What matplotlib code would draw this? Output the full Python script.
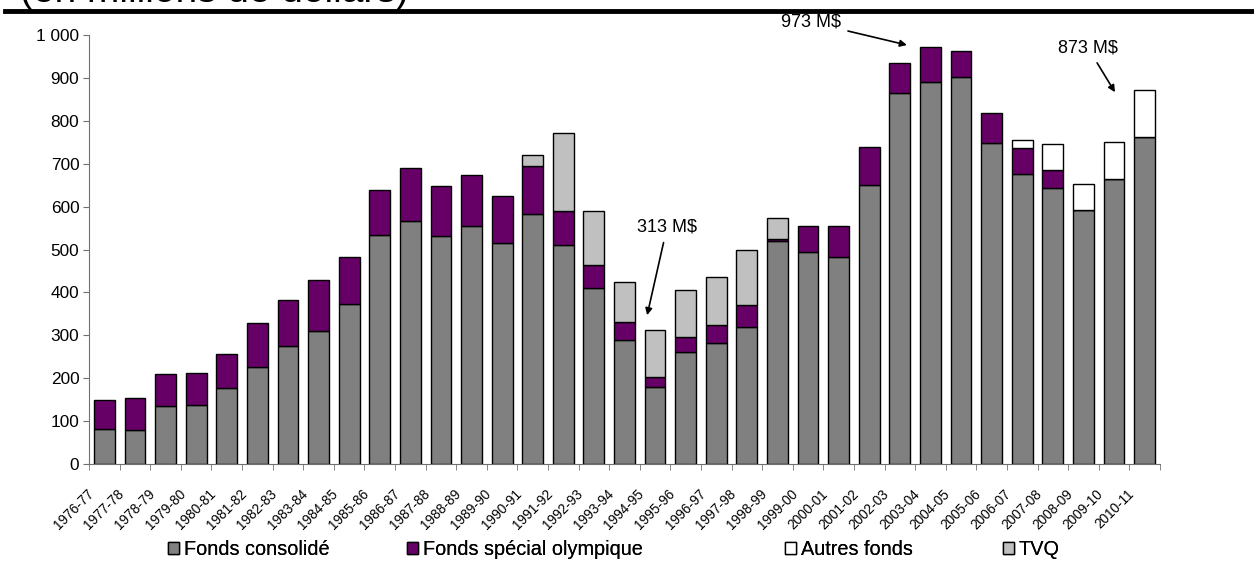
import numpy as np
import matplotlib
matplotlib.use('Agg')
import matplotlib.pyplot as plt
import matplotlib.transforms as mtrans
from matplotlib.ticker import FuncFormatter

years = ['1976-77', '1977-78', '1978-79', '1979-80', '1980-81', '1981-82', '1982-83',
         '1983-84', '1984-85', '1985-86', '1986-87', '1987-88', '1988-89', '1989-90',
         '1990-91', '1991-92', '1992-93', '1993-94', '1994-95', '1995-96', '1996-97',
         '1997-98', '1998-99', '1999-00', '2000-01', '2001-02', '2002-03', '2003-04',
         '2004-05', '2005-06', '2006-07', '2007-08', '2008-09', '2009-10', '2010-11']

# en millions de dollars
consolide = [82, 80, 135, 138, 177, 226, 274, 311, 372, 534, 567, 531, 554, 516,
             584, 510, 410, 288, 180, 262, 282, 320, 520, 495, 483, 650, 865, 890,
             902, 748, 676, 643, 592, 664, 762]
olympique = [68, 75, 75, 75, 80, 102, 109, 117, 111, 104, 123, 117, 120, 109,
             111, 80, 53, 42, 23, 33, 43, 50, 4, 60, 72, 90, 70, 83,
             61, 70, 61, 43, 0, 0, 0]
tvq = [0, 0, 0, 0, 0, 0, 0, 0, 0, 0, 0, 0, 0, 0,
       25, 182, 127, 95, 110, 110, 112, 130, 50, 0, 0, 0, 0, 0,
       0, 0, 0, 0, 0, 0, 0]
autres = [0, 0, 0, 0, 0, 0, 0, 0, 0, 0, 0, 0, 0, 0,
          0, 0, 0, 0, 0, 0, 0, 0, 0, 0, 0, 0, 0, 0,
          0, 0, 19, 60, 60, 88, 111]

notes = ['313 M$', '973 M$', '873 M$']
series_names = ['Fonds consolidé', 'Fonds spécial olympique', 'Autres fonds', 'TVQ']

plt.rcParams['font.family'] = ['Liberation Sans', 'DejaVu Sans']

fig = plt.figure(figsize=(12.54, 5.67), dpi=100)
ax = fig.add_axes([0.071, 0.1817, 0.854, 0.7563])

x = np.arange(len(years))
w = 0.68
kw = dict(width=w, edgecolor='black', linewidth=1.0)
b1 = ax.bar(x, consolide, color='#808080', **kw)
bot = np.array(consolide)
b2 = ax.bar(x, olympique, bottom=bot, color='#660066', **kw)
bot = bot + np.array(olympique)
# skip zero-height segments so no stray edges show
tv = np.array(tvq, dtype=float)
au = np.array(autres, dtype=float)
m = tv > 0
b4 = ax.bar(x[m], tv[m], bottom=bot[m], color='#c0c0c0', **kw)
m = au > 0
b3 = ax.bar(x[m], au[m], bottom=bot[m], color='white', **kw)

ax.set_xlim(-0.5, len(years) - 0.5)
ax.set_ylim(0, 1000)
ax.set_yticks(np.arange(0, 1001, 100))
ax.yaxis.set_major_formatter(FuncFormatter(lambda v, p: f'{int(v):,}'.replace(',', ' ')))

# category labels, slanted, hanging left of each bar
ax.set_xticks(x)
ax.set_xticklabels([])
off = mtrans.ScaledTranslation(-13 / 100, -28 / 100, fig.dpi_scale_trans)
for i, lab in enumerate(years):
    ax.text(i, 0, lab, transform=ax.get_xaxis_transform() + off, rotation=45,
            rotation_mode='anchor', ha='right', va='center', fontsize=9.8)
ax.set_xticks(np.arange(-0.5, len(years), 1), minor=True)
ax.tick_params(axis='x', which='major', length=0)
ax.tick_params(axis='x', which='minor', length=4, color='#707070', direction='out')
ax.tick_params(axis='y', length=4, color='#707070', labelsize=12.4, pad=3)

for s in ['top', 'right']:
    ax.spines[s].set_visible(False)
for s in ['left', 'bottom']:
    ax.spines[s].set_color('#707070')

# annotations: text position, arrow tip (data coords)
pos = {'313 M$': ((18.39, 552), (17.74, 347)),
       '973 M$': ((23.1, 1030), (26.23, 977)),
       '873 M$': ((32.15, 970), (33.03, 867))}
for txt in notes:
    tp, ap = pos[txt]
    ax.annotate(txt, xy=ap, xytext=tp, ha='center', va='center', fontsize=13,
                annotation_clip=False,
                arrowprops=dict(arrowstyle='-|>', color='black', lw=1.2,
                                mutation_scale=10, shrinkA=3, shrinkB=0))

# legend entries placed one by one
handles = [b1, b2, b3, b4]
marker_x = [168, 407, 785, 1003]
for h, name, mx in zip(handles, series_names, marker_x):
    fig.add_artist(fig.legend([h], [name], loc='center left',
                              bbox_to_anchor=(mx / 1254, 0.03), frameon=False,
                              fontsize=14.3, handlelength=0.55, handleheight=0.55,
                              handletextpad=0.25, borderpad=0, borderaxespad=0))

# rule and cut-off subtitle at the top
fig.add_artist(plt.Line2D([0.004, 1.0], [0.981, 0.981], color='black', lw=3.5))
fig.text(0.016, 1 - 2 / 567, '(en millions de dollars)', fontsize=28,
         va='baseline', ha='left')

fig.savefig('out.png', dpi=100)
